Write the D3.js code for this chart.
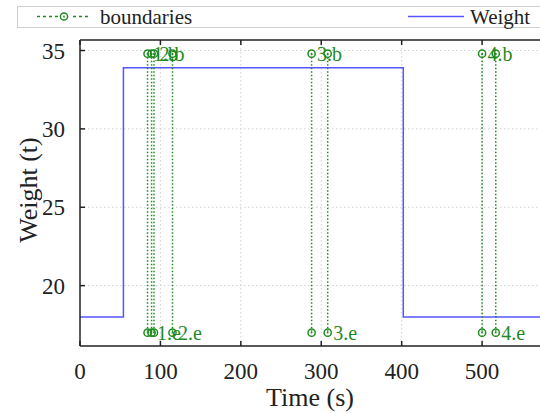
<!DOCTYPE html>
<html><head><meta charset="utf-8">
<script src="https://cdn.jsdelivr.net/npm/d3@7"></script>
<style>body{margin:0;background:#fff}svg{display:block}text{font-family:"Liberation Serif","DejaVu Serif",serif}</style>
</head><body><svg id="c" width="540" height="413"></svg>
<script>
// Data
const weightTimes  = [0, 54, 54, 402, 402, 575];
const weightValues = [18, 18, 33.9, 33.9, 18, 18];
const boundaryNames = ["1", "1", "2", "2", "3", "3", "4", "4"];
const boundaryKinds = ["b", "e", "b", "e", "b", "e", "b", "e"];
const boundaryTimes = [84, 89, 92, 115, 288, 308, 500, 517];
const boundaryTop = 34.8, boundaryBottom = 17.0;
const xTicks = [0, 100, 200, 300, 400, 500];
const yTicks = [20, 25, 30, 35];

const svg = d3.select("#c");
const L = 80, T = 40, R = 540, B = 346;
const x = d3.scaleLinear().domain([0, 572]).range([L, R]);
const y = d3.scaleLinear().domain([16.15, 35.67]).range([B, T]);
const green = "#1f8a1f", blue = "#5555ff";

// grid
const g = svg.append("g");
g.selectAll(".gx").data(xTicks.filter(d=>d>0)).join("line")
  .attr("x1", d=>x(d)).attr("x2", d=>x(d)).attr("y1", T).attr("y2", B)
  .attr("stroke", "#d0d0d0").attr("stroke-dasharray", "1.5,2.5");
g.selectAll(".gy").data(yTicks).join("line")
  .attr("x1", L).attr("x2", R).attr("y1", d=>y(d)).attr("y2", d=>y(d))
  .attr("stroke", "#d0d0d0").attr("stroke-dasharray", "1.5,2.5");

// weight line
const wdata = weightTimes.map((t,i)=>[t, weightValues[i]]);
svg.append("path").datum(wdata)
  .attr("d", d3.line().x(d=>x(d[0])).y(d=>y(d[1])))
  .attr("fill","none").attr("stroke", blue).attr("stroke-width", 1.5);

// boundaries
const bd = boundaryTimes.map((t,i)=>({t, name: boundaryNames[i], kind: boundaryKinds[i]}));
const bg = svg.append("g");
bg.selectAll("line").data(bd).join("line")
  .attr("x1", d=>x(d.t)).attr("x2", d=>x(d.t))
  .attr("y1", y(boundaryTop)).attr("y2", y(boundaryBottom))
  .attr("stroke", green).attr("stroke-width", 1.5).attr("stroke-dasharray", "1.5,2");
function marker(sel, cx, cy){
  sel.append("circle").attr("cx",cx).attr("cy",cy).attr("r",3.6)
    .attr("fill","none").attr("stroke",green).attr("stroke-width",1.5);
  sel.append("circle").attr("cx",cx).attr("cy",cy).attr("r",0.9).attr("fill",green);
}
bd.forEach(d=>{
  marker(bg, x(d.t), y(boundaryTop));
  marker(bg, x(d.t), y(boundaryBottom));
});
bg.selectAll("text").data(bd).join("text")
  .attr("x", d=>x(d.t)+5.5)
  .attr("y", d=> d.kind==="b" ? y(boundaryTop)+7 : y(boundaryBottom)+7)
  .attr("fill", green).attr("font-size", 20)
  .text(d=>d.name+"."+d.kind);

// axes frame
const ax = svg.append("g").attr("stroke","#222").attr("stroke-width",1.5);
ax.append("line").attr("x1",L).attr("x2",R).attr("y1",B).attr("y2",B);
ax.append("line").attr("x1",L).attr("x2",R).attr("y1",T).attr("y2",T);
ax.append("line").attr("x1",L).attr("x2",L).attr("y1",T).attr("y2",B);
xTicks.forEach(t=>{
  ax.append("line").attr("x1",x(t)).attr("x2",x(t)).attr("y1",B).attr("y2",B-5);
  ax.append("line").attr("x1",x(t)).attr("x2",x(t)).attr("y1",T).attr("y2",T+5);
});
yTicks.forEach(v=>{
  ax.append("line").attr("x1",L).attr("x2",L+5).attr("y1",y(v)).attr("y2",y(v));
});
svg.selectAll(".xl").data(xTicks).join("text")
  .attr("x", d=>x(d)).attr("y", 379).attr("text-anchor","middle")
  .attr("font-size", 23).attr("fill","#222").text(d=>d);
svg.selectAll(".yl").data(yTicks).join("text")
  .attr("x", 65).attr("y", d=>y(d)+8).attr("text-anchor","end")
  .attr("font-size", 23).attr("fill","#222").text(d=>d);
svg.append("text").attr("x", 310).attr("y", 406).attr("text-anchor","middle")
  .attr("font-size", 26).attr("fill","#222").text("Time (s)");
svg.append("text").attr("transform","translate(37,190) rotate(-90)").attr("text-anchor","middle")
  .attr("font-size", 26).attr("fill","#222").text("Weight (t)");

// legend
const lg = svg.append("g");
lg.append("rect").attr("x",17.5).attr("y",6.5).attr("width",530).attr("height",21)
  .attr("fill","#fff").attr("stroke","#cfcfcf");
lg.append("line").attr("x1",37).attr("x2",90).attr("y1",16.5).attr("y2",16.5)
  .attr("stroke",green).attr("stroke-width",1.5).attr("stroke-dasharray","3,3");
lg.append("rect").attr("x",58).attr("y",11).attr("width",12).attr("height",11).attr("fill","#fff");
marker(lg, 64, 16.5);
lg.append("text").attr("x",100).attr("y",23.5).attr("font-size",21).attr("fill","#222").text("boundaries");
lg.append("line").attr("x1",408).attr("x2",464).attr("y1",16.5).attr("y2",16.5)
  .attr("stroke",blue).attr("stroke-width",1.5);
lg.append("text").attr("x",470).attr("y",23.5).attr("font-size",21).attr("fill","#222").text("Weight");
</script></body></html>
